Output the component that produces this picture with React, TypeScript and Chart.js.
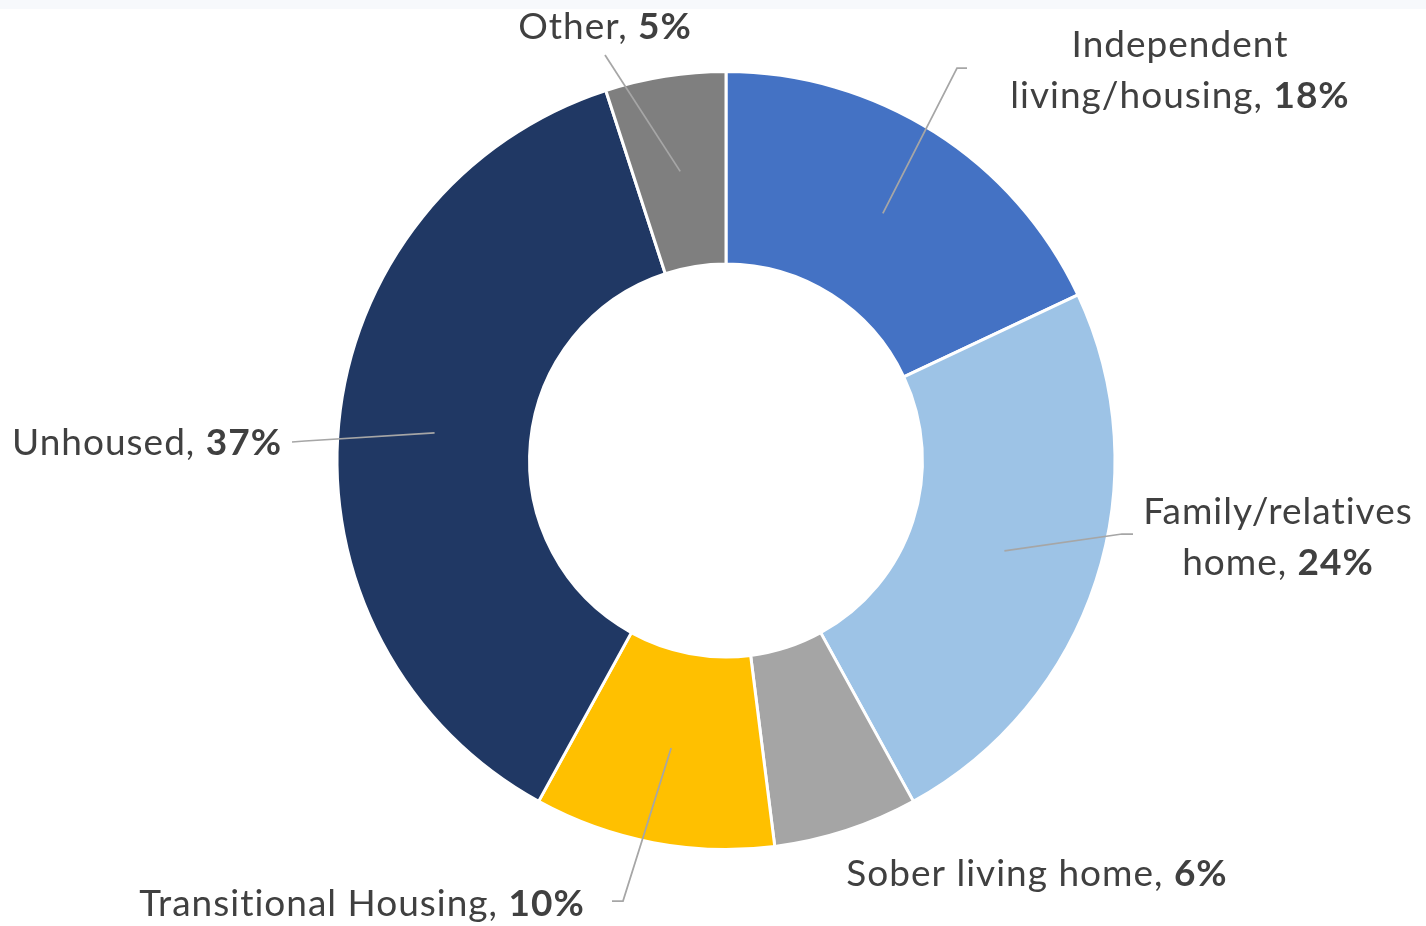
import React, { useEffect, useRef } from "react";
import { Chart, registerables } from "chart.js";

Chart.register(...registerables);

const categories = [
  "Independent living/housing",
  "Family/relatives home",
  "Sober living home",
  "Transitional Housing",
  "Unhoused",
  "Other",
];
const values = [18, 24, 6, 10, 37, 5];
const colors = ["#4472C4", "#9DC3E6", "#A5A5A5", "#FFC000", "#203864", "#7F7F7F"];
// label text lines (the percentage is appended in bold to the last line)
const labelLines = [
  ["Independent", "living/housing, "],
  ["Family/relatives", "home, "],
  ["Sober living home, "],
  ["Transitional Housing, "],
  ["Unhoused, "],
  ["Other, "],
];

// label placement: centre x, first baseline y, leader path after slice anchor
const labelPlacement: { cx: number; y: number; leader: number[][] | null }[] = [
  { cx: 1180, y: 57, leader: [[957, 68], [967, 68]] },
  { cx: 1278, y: 524, leader: [[1122, 534], [1133, 534]] },
  { cx: 1037, y: 886, leader: null },
  { cx: 362, y: 916, leader: [[623, 901], [612, 901]] },
  { cx: 147, y: 455, leader: [[305, 441], [292, 442]] },
  { cx: 605, y: 39, leader: [[605, 55]] },
];

const FONT_FAMILY = "Lato, 'Open Sans', sans-serif";
const FONT_SIZE = 37;
const LETTER_SPACING = "1px";
const LINE_HEIGHT = 51;

const labelPlugin = {
  id: "calloutLabels",
  afterDatasetsDraw(chart: any) {
    const ctx: any = chart.ctx;
    const meta = chart.getDatasetMeta(0);
    ctx.save();
    ctx.letterSpacing = LETTER_SPACING;
    meta.data.forEach((arc: any, i: number) => {
      const p = arc.getProps(["x", "y", "startAngle", "endAngle", "innerRadius", "outerRadius"], true);
      const mid = (p.startAngle + p.endAngle) / 2;
      const r = (p.innerRadius + p.outerRadius) / 2;
      const ax = p.x + Math.cos(mid) * r;
      const ay = p.y + Math.sin(mid) * r;
      const place = labelPlacement[i];
      if (place.leader) {
        ctx.beginPath();
        ctx.strokeStyle = "#A6A6A6";
        ctx.lineWidth = 1.75;
        ctx.moveTo(ax, ay);
        place.leader.forEach(([x, y]) => ctx.lineTo(x, y));
        ctx.stroke();
      }
      const lines = labelLines[i];
      ctx.fillStyle = "#404040";
      ctx.textBaseline = "alphabetic";
      ctx.textAlign = "left";
      lines.forEach((line, li) => {
        const y = place.y + li * LINE_HEIGHT;
        const isLast = li === lines.length - 1;
        ctx.font = `normal ${FONT_SIZE}px ${FONT_FAMILY}`;
        const w1 = ctx.measureText(line).width;
        let w2 = 0;
        const pct = `${values[i]}%`;
        if (isLast) {
          ctx.font = `bold ${FONT_SIZE}px ${FONT_FAMILY}`;
          w2 = ctx.measureText(pct).width;
        }
        const x0 = place.cx - (w1 + w2) / 2;
        ctx.font = `normal ${FONT_SIZE}px ${FONT_FAMILY}`;
        ctx.fillText(line, x0, y);
        if (isLast) {
          ctx.font = `bold ${FONT_SIZE}px ${FONT_FAMILY}`;
          ctx.fillText(pct, x0 + w1, y);
        }
      });
    });
    ctx.restore();
  },
};

export default function App() {
  const ref = useRef<HTMLCanvasElement>(null);
  useEffect(() => {
    document.body.style.margin = "0";
    document.body.style.background = "#ffffff";
    const chart = new Chart(ref.current!, {
      type: "doughnut",
      data: {
        labels: categories,
        datasets: [
          {
            data: values,
            backgroundColor: colors,
            borderColor: "#ffffff",
            borderWidth: 3,
          },
        ],
      },
      options: {
        animation: false,
        responsive: false,
        devicePixelRatio: 1,
        cutout: "50.5%",
        layout: { padding: { top: 70, bottom: 75, left: 335, right: 309 } },
        plugins: {
          legend: { display: false },
          tooltip: { enabled: false },
        },
      },
      plugins: [labelPlugin],
    });
    return () => chart.destroy();
  }, []);
  return (
    <div style={{ position: "relative", width: 1426, height: 926, background: "#ffffff" }}>
      <div style={{ position: "absolute", left: 0, top: 0, width: 1426, height: 9, background: "#F7F9FC" }} />
      <canvas ref={ref} width={1426} height={926} style={{ position: "absolute", left: 0, top: 0, width: 1426, height: 926 }} />
    </div>
  );
}
